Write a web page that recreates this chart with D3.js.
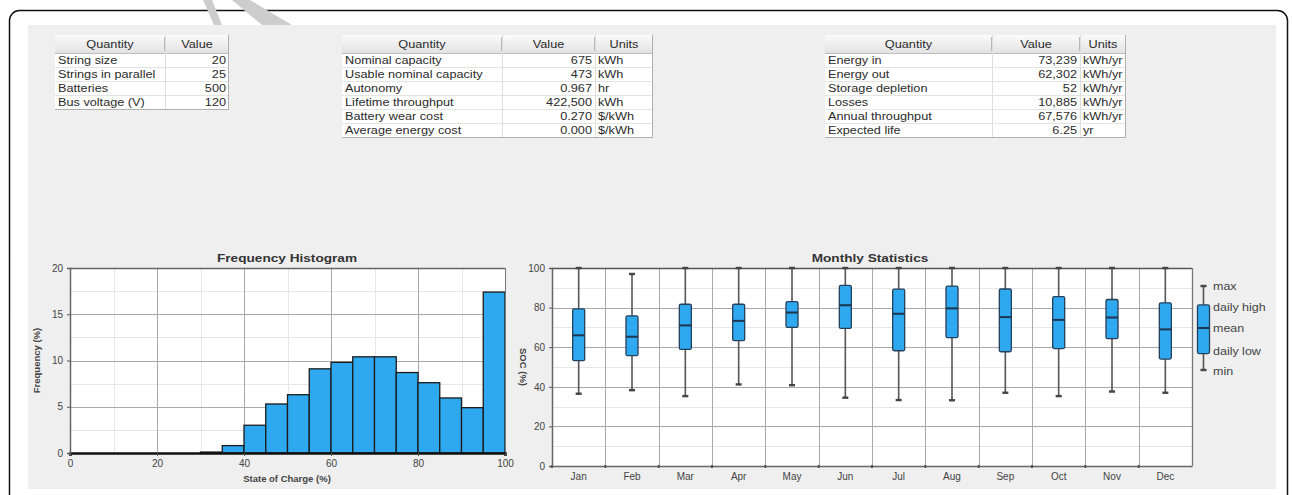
<!DOCTYPE html>
<html><head><meta charset="utf-8">
<script src="https://cdn.jsdelivr.net/npm/d3@7"></script>
<style>
body{margin:0;background:#fff;}
svg{display:block;font-family:"Liberation Sans",Arial,sans-serif;}
</style></head>
<body>
<svg id="chart" width="1292" height="495"></svg>
<script>
// ---------- DATA ----------
const table1Headers = ["Quantity", "Value"];
const table1Quantities = ["String size", "Strings in parallel", "Batteries", "Bus voltage (V)"];
const table1Values = ["20", "25", "500", "120"];

const table2Headers = ["Quantity", "Value", "Units"];
const table2Quantities = ["Nominal capacity", "Usable nominal capacity", "Autonomy", "Lifetime throughput", "Battery wear cost", "Average energy cost"];
const table2Values = ["675", "473", "0.967", "422,500", "0.270", "0.000"];
const table2Units = ["kWh", "kWh", "hr", "kWh", "$/kWh", "$/kWh"];

const table3Headers = ["Quantity", "Value", "Units"];
const table3Quantities = ["Energy in", "Energy out", "Storage depletion", "Losses", "Annual throughput", "Expected life"];
const table3Values = ["73,239", "62,302", "52", "10,885", "67,576", "6.25"];
const table3Units = ["kWh/yr", "kWh/yr", "kWh/yr", "kWh/yr", "kWh/yr", "yr"];

const histBinStart = [0,5,10,15,20,25,30,35,40,45,50,55,60,65,70,75,80,85,90,95];
const histFrequency = [0,0,0,0,0,0,0.1,0.8,3.0,5.3,6.3,9.1,9.8,10.4,10.4,8.7,7.6,5.95,4.9,17.4];
const histXTicks = [0,20,40,60,80,100];
const histYTicks = [0,5,10,15,20];

const months = ["Jan","Feb","Mar","Apr","May","Jun","Jul","Aug","Sep","Oct","Nov","Dec"];
const socMin   = [36.5,38.3,35.3,41.2,40.8,34.5,33.3,33.2,37.0,35.3,37.6,37.0];
const socLow   = [53.2,55.7,58.9,63.3,70.0,69.5,58.2,64.8,57.7,59.3,64.3,54.0];
const socMean  = [66.0,65.3,71.0,73.3,77.5,81.2,76.9,79.6,75.2,73.8,75.0,69.0];
const socHigh  = [79.4,75.8,81.7,81.7,83.0,91.2,89.3,90.8,89.4,85.5,84.1,82.4];
const socMax   = [100,97,100,100,100,100,100,100,100,100,100,100];
const socYTicks = [0,20,40,60,80,100];
const legendLabels = ["max","daily high","mean","daily low","min"];

// ---------- HELPERS ----------
const svg = d3.select("#chart");
function stext(parent, x, y, str, opts){
  const o = Object.assign({size:10, sx:1.27, anchor:"start", weight:"normal", fill:"#2b2b2b"}, opts||{});
  const g = parent.append("g").attr("transform",`translate(${x},${y}) scale(${o.sx},1)`);
  g.append("text").attr("x",0).attr("y",0).attr("text-anchor",o.anchor).attr("font-size",o.size)
    .attr("font-weight",o.weight).attr("fill",o.fill).text(str);
  return g;
}

// ---------- FRAME ----------
svg.append("rect").attr("x",9.5).attr("y",10.5).attr("width",1278).attr("height",600)
  .attr("rx",10).attr("fill","#fff").attr("stroke","#111").attr("stroke-width",1.5);
// watermark fragment
svg.append("path").attr("d","M203,0 L212,0 L222,25 L214,25 Z").attr("fill","#cdcdcd");
svg.append("path").attr("d","M232,0 L250,0 L292,25 L262,25 Z").attr("fill","#cdcdcd");
svg.append("rect").attr("x",28).attr("y",25).attr("width",1248).attr("height",464).attr("fill","#efefef");

// ---------- TABLES ----------
const defs = svg.append("defs");
const hg = defs.append("linearGradient").attr("id","hdr").attr("x1",0).attr("y1",0).attr("x2",0).attr("y2",1);
hg.append("stop").attr("offset","0%").attr("stop-color","#fbfbfb");
hg.append("stop").attr("offset","100%").attr("stop-color","#e2e2e2");

function drawTable(x0, y0, widths, headers, columns, aligns){
  const hh = 18, rh = 14;
  const g = svg.append("g");
  const nRows = columns[0].length;
  const totalW = d3.sum(widths);
  const totalH = hh + nRows*rh;
  g.append("rect").attr("x",x0).attr("y",y0).attr("width",totalW).attr("height",totalH).attr("fill","#fff");
  g.append("rect").attr("x",x0).attr("y",y0).attr("width",totalW).attr("height",hh).attr("fill","url(#hdr)");
  let cx = x0;
  const xs = widths.map(w => { const s = cx; cx += w; return s; });
  headers.forEach((h,i)=>{
    stext(g, xs[i]+widths[i]/2, y0+hh-5, h, {anchor:"middle"});
  });
  for(let r=0;r<=nRows;r++){
    g.append("line").attr("x1",x0).attr("x2",x0+totalW).attr("y1",y0+hh+r*rh+0.5).attr("y2",y0+hh+r*rh+0.5)
      .attr("stroke", r===0 ? "#bdbdbd" : "#e4e4e4");
  }
  xs.slice(1).forEach(x=>{
    g.append("line").attr("x1",x+0.5).attr("x2",x+0.5).attr("y1",y0).attr("y2",y0+totalH).attr("stroke","#dedede");
    g.append("line").attr("x1",x-0.5).attr("x2",x-0.5).attr("y1",y0+2).attr("y2",y0+hh-2).attr("stroke","#b8b8b8");
  });
  g.append("line").attr("x1",x0+totalW-0.5).attr("x2",x0+totalW-0.5).attr("y1",y0).attr("y2",y0+totalH+1).attr("stroke","#b0b0b0");
  g.append("line").attr("x1",x0).attr("x2",x0+totalW).attr("y1",y0+totalH+0.5).attr("y2",y0+totalH+0.5).attr("stroke","#b0b0b0");
  columns.forEach((col,ci)=>{
    col.forEach((v,ri)=>{
      const a = aligns[ci];
      stext(g, a==="end" ? xs[ci]+widths[ci]-3 : xs[ci]+3, y0+hh+ri*rh+rh-3.5, v, {anchor:a});
    });
  });
}
drawTable(55, 35, [110,64], table1Headers, [table1Quantities, table1Values], ["start","end"]);
drawTable(342, 35, [160,93,58], table2Headers, [table2Quantities, table2Values, table2Units], ["start","end","start"]);
drawTable(825, 35, [167,88,46], table3Headers, [table3Quantities, table3Values, table3Units], ["start","end","start"]);

// ---------- HISTOGRAM ----------
const blue = "#2ea8ef";
const hx = d3.scaleLinear().domain([0,100]).range([70,505]);
const hy = d3.scaleLinear().domain([0,20]).range([453,268]);
const hG = svg.append("g");
hG.append("rect").attr("x",hx(0)).attr("y",hy(20)).attr("width",hx(100)-hx(0)).attr("height",hy(0)-hy(20)).attr("fill","#fff");
d3.range(0,101,10).filter(v=>v%20!==0).forEach(v=>{
  hG.append("line").attr("x1",Math.round(hx(v))+0.5).attr("x2",Math.round(hx(v))+0.5).attr("y1",hy(20)).attr("y2",hy(0)).attr("stroke","#e6e6e6");
});
d3.range(0,20.01,2.5).filter(v=>v%5!==0).forEach(v=>{
  hG.append("line").attr("x1",hx(0)).attr("x2",hx(100)).attr("y1",Math.round(hy(v))+0.5).attr("y2",Math.round(hy(v))+0.5).attr("stroke","#e6e6e6");
});
histXTicks.slice(1,-1).forEach(v=>{
  hG.append("line").attr("x1",Math.round(hx(v))+0.5).attr("x2",Math.round(hx(v))+0.5).attr("y1",hy(20)).attr("y2",hy(0)).attr("stroke","#a9a9a9");
});
histYTicks.slice(1,-1).forEach(v=>{
  hG.append("line").attr("x1",hx(0)).attr("x2",hx(100)).attr("y1",Math.round(hy(v))+0.5).attr("y2",Math.round(hy(v))+0.5).attr("stroke","#a9a9a9");
});
hG.selectAll("rect.bar").data(histBinStart.map((b,i)=>({b, f:histFrequency[i]})).filter(d=>d.f>0))
  .join("rect").attr("class","bar")
  .attr("x",d=>hx(d.b)).attr("y",d=>hy(d.f)).attr("width",d=>hx(d.b+5)-hx(d.b)).attr("height",d=>hy(0)-hy(d.f))
  .attr("fill",blue).attr("stroke","#1b1b1b").attr("stroke-width",1.3);
hG.append("line").attr("x1",hx(0)).attr("x2",hx(100)).attr("y1",hy(20)+0.5).attr("y2",hy(20)+0.5).attr("stroke","#666").attr("stroke-width",1.3);
hG.append("line").attr("x1",hx(100)+0.5).attr("x2",hx(100)+0.5).attr("y1",hy(20)).attr("y2",hy(0)).attr("stroke","#777");
const hxAxis = hG.append("g").attr("transform",`translate(0,${hy(0)})`)
  .call(d3.axisBottom(hx).tickValues(histXTicks).tickSize(3).tickPadding(4));
const hyAxis = hG.append("g").attr("transform",`translate(${hx(0)},0)`)
  .call(d3.axisLeft(hy).tickValues(histYTicks).tickSize(3).tickPadding(4));
[hxAxis,hyAxis].forEach(a=>{
  a.select(".domain").attr("stroke","#666").attr("stroke-width",1.5);
  a.selectAll(".tick line").attr("stroke","#555");
  a.selectAll("text").attr("font-size",10).attr("fill","#444").attr("font-family","Liberation Sans, Arial, sans-serif");
});
hxAxis.select(".domain").attr("stroke","#111").attr("stroke-width",2.5);
stext(hG, 287, 262, "Frequency Histogram", {anchor:"middle", size:10.5, weight:"bold", sx:1.3, fill:"#333"});
hG.append("text").attr("x",287).attr("y",482).attr("text-anchor","middle").attr("font-size",9.5).attr("font-weight","bold").attr("fill","#444").text("State of Charge (%)");
hG.append("text").attr("transform",`translate(40,${(hy(0)+hy(20))/2}) rotate(-90)`).attr("text-anchor","middle").attr("font-size",9.5).attr("font-weight","bold").attr("fill","#444").text("Frequency (%)");

// ---------- MONTHLY STATISTICS ----------
const mx = d3.scaleBand().domain(months).range([552,1192]);
const my = d3.scaleLinear().domain([0,100]).range([466,268]);
const mG = svg.append("g");
mG.append("rect").attr("x",mx.range()[0]).attr("y",my(100)).attr("width",640).attr("height",my(0)-my(100)).attr("fill","#fff");
d3.range(10,100,20).forEach(v=>{
  mG.append("line").attr("x1",552).attr("x2",1192).attr("y1",Math.round(my(v))+0.5).attr("y2",Math.round(my(v))+0.5).attr("stroke","#e6e6e6");
});
socYTicks.slice(1,-1).forEach(v=>{
  mG.append("line").attr("x1",552).attr("x2",1192).attr("y1",Math.round(my(v))+0.5).attr("y2",Math.round(my(v))+0.5).attr("stroke","#a9a9a9");
});
months.slice(1).forEach(m=>{
  const x = Math.round(mx(m))+0.5;
  mG.append("line").attr("x1",x).attr("x2",x).attr("y1",my(100)).attr("y2",my(0)).attr("stroke","#a9a9a9");
});
mG.append("line").attr("x1",552).attr("x2",1192).attr("y1",my(100)+0.5).attr("y2",my(100)+0.5).attr("stroke","#555").attr("stroke-width",1.6);
mG.append("line").attr("x1",1192.5).attr("x2",1192.5).attr("y1",my(100)).attr("y2",my(0)).attr("stroke","#777").attr("stroke-width",1.3);

const boxW = 12, capW = 6;
const stats = months.map((m,i)=>({m, min:socMin[i], low:socLow[i], mean:socMean[i], high:socHigh[i], max:socMax[i]}));
function drawBox(g, cx, s, yS){
  g.append("line").attr("x1",cx).attr("x2",cx).attr("y1",yS(s.min)).attr("y2",yS(s.max)).attr("stroke","#555").attr("stroke-width",1.6);
  g.append("line").attr("x1",cx-capW/2).attr("x2",cx+capW/2).attr("y1",yS(s.min)).attr("y2",yS(s.min)).attr("stroke","#444").attr("stroke-width",2.4);
  g.append("line").attr("x1",cx-capW/2).attr("x2",cx+capW/2).attr("y1",yS(s.max)).attr("y2",yS(s.max)).attr("stroke","#444").attr("stroke-width",2.4);
  g.append("rect").attr("x",cx-boxW/2).attr("y",yS(s.high)).attr("width",boxW).attr("height",yS(s.low)-yS(s.high))
    .attr("rx",1.5).attr("fill",blue).attr("stroke","#24415c").attr("stroke-width",1.3);
  g.append("line").attr("x1",cx-boxW/2).attr("x2",cx+boxW/2).attr("y1",yS(s.mean)).attr("y2",yS(s.mean)).attr("stroke","#1d3550").attr("stroke-width",2);
}
stats.forEach(s=>drawBox(mG, mx(s.m)+mx.bandwidth()/2, s, my));

const mxAxis = mG.append("g").attr("transform",`translate(0,${my(0)})`)
  .call(d3.axisBottom(mx).tickSize(0).tickPadding(7));
mxAxis.selectAll(".tick").append("line").attr("x1",-mx.bandwidth()/2).attr("x2",-mx.bandwidth()/2).attr("y1",-1).attr("y2",2).attr("stroke","#444").attr("stroke-width",2);
const myAxis = mG.append("g").attr("transform",`translate(552,0)`)
  .call(d3.axisLeft(my).tickValues(socYTicks).tickSize(3).tickPadding(4));
[mxAxis,myAxis].forEach(a=>{
  a.select(".domain").attr("stroke","#666").attr("stroke-width",1.5);
  a.selectAll(".tick line").attr("stroke","#555");
  a.selectAll("text").attr("font-size",10).attr("fill","#444").attr("font-family","Liberation Sans, Arial, sans-serif");
});
stext(mG, 870, 262, "Monthly Statistics", {anchor:"middle", size:10.5, weight:"bold", sx:1.3, fill:"#333"});
mG.append("text").attr("transform",`translate(520,${(my(0)+my(100))/2}) rotate(90)`).attr("text-anchor","middle").attr("font-size",9.5).attr("font-weight","bold").attr("fill","#444").text("SOC (%)");

// legend
const legY = d3.scaleLinear().domain([0,4]).range([370,286]);
const lg = svg.append("g");
drawBox(lg, 1203.5, {min:0, low:0.78, mean:2, high:3.1, max:4}, legY);
const legTextY = [286, 307, 328, 351, 371];
legendLabels.forEach((t,i)=>{
  stext(lg, 1213, legTextY[i]+3.5, t, {size:10, sx:1.25, fill:"#444"});
});
</script>
</body></html>
